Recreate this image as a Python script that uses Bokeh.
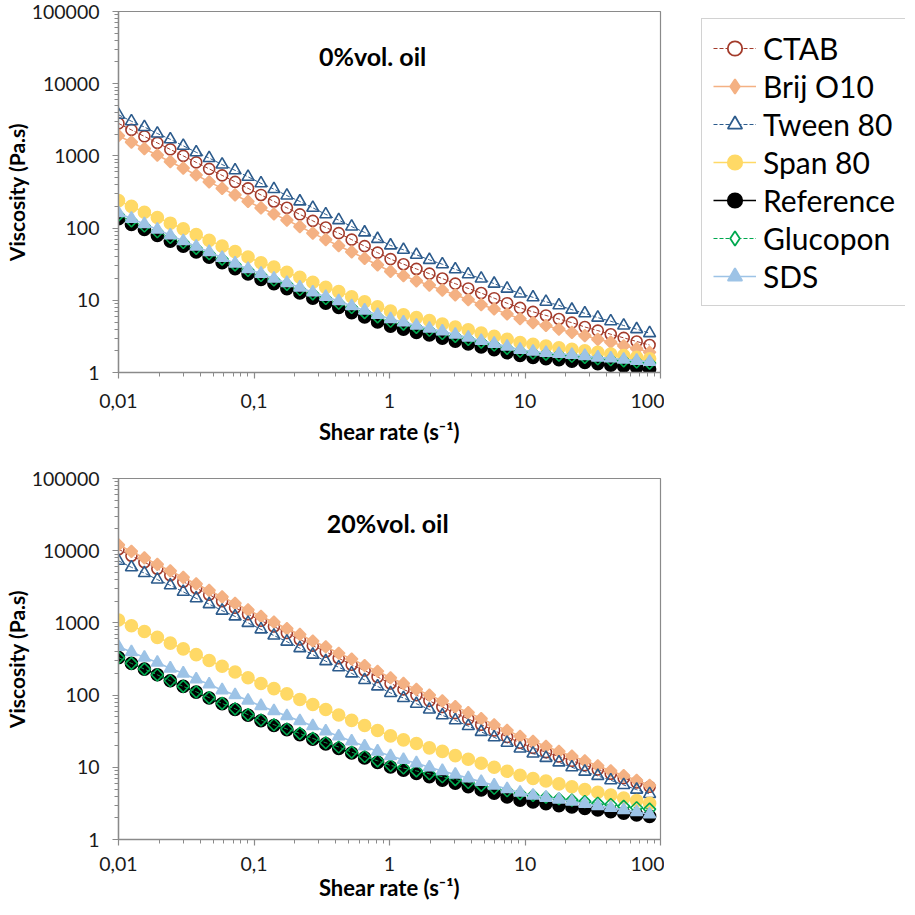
import math
from bokeh.plotting import figure
from bokeh.models import Range1d, FixedTicker, Label, Legend, LegendItem
from bokeh.layouts import column, row
from bokeh.embed import file_html
from bokeh.resources import INLINE

# ---------------- data ----------------
shear_rate = [0.01, 0.01246, 0.01553, 0.01935, 0.02412, 0.03006, 0.03746, 0.04668, 0.05818, 0.0725,
              0.09036, 0.1126, 0.1403, 0.1749, 0.218, 0.2716, 0.3385, 0.4219, 0.5257, 0.6552,
              0.8166, 1.018, 1.268, 1.58, 1.97, 2.455, 3.059, 3.813, 4.751, 5.922,
              7.379, 9.196, 11.46, 14.28, 17.8, 22.18, 27.64, 34.45, 42.94, 53.51,
              66.68, 83.1]

series_names = ["CTAB", "Brij O10", "Tween 80", "Span 80", "Reference", "Glucopon", "SDS"]
panel_titles = ["0%vol. oil", "20%vol. oil"]

# 0 %vol. oil
ctab_0 = [2818, 2291, 1862, 1514, 1230, 1000, 813, 661, 537, 437, 355, 288, 234, 191, 155, 126, 102, 85.1, 69.2, 56.2, 45.7,
          37.2, 31.6, 27.2, 23.4, 20.0, 17.0, 14.6, 12.6, 10.7, 9.12, 7.85, 6.92, 6.17, 5.50, 4.90, 4.27, 3.80, 3.39, 3.02, 2.69, 2.40]
brij_0 = [1905, 1549, 1259, 1023, 832, 676, 543, 437, 355, 288, 234, 191, 157, 129, 105, 85.1, 69.2, 56.9, 46.8, 38.0, 30.9,
          25.1, 21.9, 18.6, 16.2, 13.8, 11.9, 10.2, 8.71, 7.59, 6.46, 5.56, 4.90, 4.47, 3.98, 3.59, 3.24, 2.88, 2.63, 2.34, 2.14, 1.91]
tween_0 = [3715, 3020, 2512, 2042, 1698, 1380, 1122, 933, 759, 631, 513, 417, 347, 282, 234, 191, 155, 129, 105, 87.1, 70.8,
           57.5, 50.1, 42.7, 36.3, 31.6, 26.9, 22.9, 20.0, 17.0, 14.5, 12.4, 11.0, 9.55, 8.51, 7.41, 6.61, 5.75, 5.13, 4.47, 3.98, 3.51]
span_0 = [240, 200, 166, 140, 117, 97.7, 81.3, 67.6, 56.2, 47.3, 39.8, 33.1, 28.8, 24.5, 20.9, 17.8, 15.1, 13.2, 11.2, 9.55, 8.13,
          7.08, 6.31, 5.75, 5.25, 4.68, 4.27, 3.89, 3.51, 3.16, 2.88, 2.60, 2.45, 2.32, 2.19, 2.09, 2.00, 1.91, 1.80, 1.72, 1.62, 1.55]
ref_0 = [135, 112, 95.5, 79.4, 66.1, 56.2, 46.8, 39.4, 33.1, 27.5, 23.2, 19.5, 17.0, 14.5, 12.6, 10.7, 9.12, 7.94, 6.76, 5.89, 5.01,
         4.37, 3.98, 3.59, 3.31, 2.99, 2.72, 2.48, 2.26, 2.07, 1.88, 1.72, 1.62, 1.55, 1.50, 1.43, 1.38, 1.32, 1.26, 1.22, 1.175, 1.12]
glucopon_0 = [151, 126, 107, 89.1, 74.1, 63.1, 52.5, 44.2, 37.2, 30.9, 26.0, 22.1, 19.1, 16.6, 14.1, 12.3, 10.6, 9.12, 7.94, 6.76, 5.89,
              5.13, 4.68, 4.22, 3.85, 3.47, 3.16, 2.88, 2.63, 2.40, 2.16, 1.97, 1.86, 1.80, 1.74, 1.68, 1.62, 1.55, 1.50, 1.45, 1.40, 1.35]
sds_0 = [162, 135, 114, 95.5, 79.4, 66.1, 55.6, 46.8, 38.9, 32.4, 27.2, 23.4, 20.0, 17.4, 15.1, 12.9, 11.2, 9.77, 8.32, 7.24, 6.31,
         5.50, 4.95, 4.47, 4.07, 3.72, 3.35, 3.05, 2.75, 2.51, 2.29, 2.07, 1.95, 1.88, 1.82, 1.76, 1.70, 1.62, 1.57, 1.51, 1.46, 1.41]

# 20 %vol. oil
ctab_20 = [10470, 8511, 6918, 5623, 4571, 3715, 3020, 2455, 1995, 1622, 1318, 1072, 891, 724, 589, 484, 398, 324, 263, 219, 178,
           145, 120, 100, 83.2, 68.4, 56.2, 46.8, 38.9, 32.4, 26.3, 21.9, 18.6, 16.2, 14.1, 12.3, 10.7, 9.33, 8.13, 7.08, 6.17, 5.37]
brij_20 = [12020, 9772, 7943, 6457, 5248, 4266, 3467, 2818, 2291, 1862, 1514, 1230, 1023, 832, 692, 562, 468, 380, 316, 257, 214,
           174, 145, 120, 100, 83.2, 69.2, 57.5, 47.3, 38.9, 32.4, 26.9, 22.9, 19.5, 16.6, 14.3, 12.3, 10.5, 8.91, 7.67, 6.61, 5.62]
tween_20 = [7244, 5888, 4898, 3981, 3311, 2692, 2188, 1820, 1479, 1230, 1000, 813, 668, 550, 447, 363, 295, 243, 200, 162, 132,
            107, 91.2, 75.9, 63.1, 52.5, 44.7, 37.2, 30.9, 26.0, 21.9, 18.2, 15.5, 13.5, 11.7, 10.0, 8.71, 7.59, 6.61, 5.69, 4.90, 4.27]
span_20 = [1096, 912, 759, 631, 525, 437, 363, 302, 251, 209, 174, 145, 123, 104, 87.1, 74.1, 63.1, 53.1, 44.7, 38.0, 32.4,
           27.2, 24.0, 21.4, 18.6, 16.6, 14.5, 12.9, 11.4, 10.0, 8.81, 7.76, 7.01, 6.46, 5.89, 5.37, 4.90, 4.52, 4.12, 3.76, 3.47, 3.16]
ref_20 = [331, 275, 229, 191, 158, 132, 110, 91.2, 75.9, 63.1, 52.5, 44.2, 38.0, 33.1, 28.2, 24.5, 21.1, 18.2, 15.8, 13.5, 11.7,
          10.1, 9.12, 8.22, 7.41, 6.61, 6.03, 5.37, 4.84, 4.37, 3.89, 3.51, 3.31, 3.13, 2.95, 2.82, 2.69, 2.57, 2.43, 2.32, 2.19, 2.09]
glucopon_20 = [331, 275, 229, 191, 158, 132, 111, 92.3, 76.7, 64.6, 53.7, 45.2, 38.9, 33.9, 29.5, 25.1, 21.9, 19.1, 16.2, 14.1, 12.3,
               10.6, 9.77, 8.91, 8.13, 7.41, 6.76, 6.17, 5.62, 5.13, 4.73, 4.32, 4.07, 3.85, 3.67, 3.51, 3.35, 3.16, 3.05, 2.88, 2.75, 2.63]
sds_20 = [468, 394, 331, 282, 234, 200, 166, 141, 117, 100, 84.1, 70.8, 60.3, 51.3, 43.7, 37.2, 31.6, 26.9, 22.9, 19.5, 16.6,
          14.3, 12.7, 11.4, 10.0, 8.91, 7.94, 7.08, 6.31, 5.62, 5.01, 4.47, 4.07, 3.80, 3.59, 3.35, 3.13, 2.92, 2.75, 2.57, 2.40, 2.24]

x_tick_values = [0.01, 0.1, 1, 10, 100]
x_tick_labels = ["0,01", "0,1", "1", "10", "100"]
y_tick_values = [1, 10, 100, 1000, 10000, 100000]
y_tick_labels = ["1", "10", "100", "1000", "10000", "100000"]

# ---------------- styles ----------------
FONT = "Lato"
AXIS_GREY = "#8a8a8a"
styles = {
    "CTAB":      dict(color="#a33b2b", marker="circle",   size=11,  angle=0.0,       filled=False, dash="4 2", lw=1.0,
                      key_marker="circle", key_size=15),
    "Brij O10":  dict(color="#f4b183", marker="square",   size=8.5, angle=math.pi/4, filled=True,  dash="solid", lw=1.6,
                      key_marker="diamond", key_size=21),
    "Tween 80":  dict(color="#2c5b8c", marker="triangle", size=12,  angle=0.0,       filled=False, dash="4 2", lw=1.0,
                      key_marker="triangle", key_size=16),
    "Span 80":   dict(color="#ffd966", marker="circle",   size=12,  angle=0.0,       filled=True,  dash="solid", lw=1.6,
                      key_marker="circle", key_size=16),
    "Reference": dict(color="#000000", marker="circle",   size=12,  angle=0.0,       filled=True,  dash="solid", lw=1.6,
                      key_marker="circle", key_size=15),
    "Glucopon":  dict(color="#00a84f", marker="square",   size=8.5, angle=math.pi/4, filled=False, dash="4 2", lw=1.0,
                      key_marker="diamond", key_size=19),
    "SDS":       dict(color="#9dc3e6", marker="triangle", size=12,  angle=0.0,       filled=True,  dash="solid", lw=1.6,
                      key_marker="triangle", key_size=16),
}


def draw_series(p, xs, ys, name, key=False):
    s = styles[name]
    r_line = p.line(xs, ys, line_color=s["color"], line_width=s["lw"], line_dash=s["dash"])
    if key:
        r_pts = p.scatter(xs, ys, marker=s["key_marker"], size=s["key_size"],
                          line_color=s["color"], line_width=1.8,
                          fill_color=s["color"] if s["filled"] else "white")
    else:
        r_pts = p.scatter(xs, ys, marker=s["marker"], size=s["size"], angle=s["angle"],
                          line_color=s["color"], line_width=1.6,
                          fill_color=s["color"] if s["filled"] else None)
    return r_line, r_pts


def make_panel(series_values, title, title_x, min_left, min_right, min_top, min_bottom,
               label_standoff, title_standoff):
    p = figure(frame_width=542, frame_height=361,
               x_axis_type="log", y_axis_type="log",
               x_range=Range1d(0.01, 100), y_range=Range1d(1, 100000),
               toolbar_location=None, output_backend="svg",
               min_border_left=min_left, min_border_right=min_right,
               min_border_top=min_top, min_border_bottom=min_bottom)
    p.grid.visible = False
    p.outline_line_color = AXIS_GREY
    p.outline_line_width = 1.2
    p.background_fill_color = "white"

    x_minor = [k * 10.0 ** e for e in range(-2, 2) for k in range(2, 10)]
    y_minor = [k * 10.0 ** e for e in range(0, 5) for k in range(2, 10)]
    p.xaxis.ticker = FixedTicker(ticks=x_tick_values, minor_ticks=x_minor)
    p.yaxis.ticker = FixedTicker(ticks=y_tick_values, minor_ticks=y_minor)
    p.xaxis.major_label_overrides = dict(zip(x_tick_values, x_tick_labels))
    p.yaxis.major_label_overrides = dict(zip(y_tick_values, y_tick_labels))

    for ax in (p.xaxis[0], p.yaxis[0]):
        ax.axis_line_color = AXIS_GREY
        ax.axis_line_width = 1.4
        ax.major_tick_line_color = AXIS_GREY
        ax.minor_tick_line_color = AXIS_GREY
        ax.major_tick_line_width = 1.2
        ax.minor_tick_line_width = 1.0
        ax.major_tick_out = 6
        ax.major_tick_in = 0
        ax.minor_tick_out = 4
        ax.minor_tick_in = 0
        ax.major_label_text_font = FONT
        ax.major_label_text_font_size = "19.5px"
        ax.major_label_text_color = "#1a1a1a"
        ax.axis_label_text_font = FONT
        ax.axis_label_text_font_style = "bold"
        ax.axis_label_text_color = "#000000"

    p.xaxis.axis_label = "Shear rate (s\u207b\u00b9)"
    p.yaxis.axis_label = "Viscosity (Pa.s)"
    p.xaxis.axis_label_text_font_size = "22px"
    p.yaxis.axis_label_text_font_size = "21px"
    p.xaxis.major_label_standoff = label_standoff
    p.xaxis.axis_label_standoff = title_standoff
    p.yaxis.major_label_standoff = 13
    p.yaxis.axis_label_standoff = 0

    for name, ys in zip(series_names, series_values):
        draw_series(p, shear_rate, ys, name)

    p.add_layout(Label(x=title_x, y=24500, text=title, text_font=FONT, text_font_style="bold",
                       text_font_size="25px", text_align="center", text_baseline="alphabetic",
                       text_color="#000000"))
    return p


top_series = [ctab_0, brij_0, tween_0, span_0, ref_0, glucopon_0, sds_0]
top = make_panel(top_series, panel_titles[0], 0.75,
                 min_left=112, min_right=4, min_top=11, min_bottom=92,
                 label_standoff=15, title_standoff=7)
bottom = make_panel([ctab_20, brij_20, tween_20, span_20, ref_20, glucopon_20, sds_20], panel_titles[1], 0.97,
                    min_left=109, min_right=4, min_top=14, min_bottom=60,
                    label_standoff=11, title_standoff=0)

# ---------------- legend panel (to the right of the top chart) ----------------
TOP_HEIGHT = 11 + 361 + 92
leg = figure(width=241, height=TOP_HEIGHT, x_range=Range1d(1000, 2000), y_range=Range1d(1000, 2000),
             x_axis_location=None, y_axis_location=None, toolbar_location=None,
             output_backend="svg", min_border_left=30, min_border_right=0,
             min_border_top=0, min_border_bottom=0)
leg.grid.visible = False
leg.outline_line_color = None
leg.background_fill_color = "white"

items = []
for name, ys in zip(series_names, top_series):
    # one real point per series (outside this panel's ranges) so that the key glyphs draw
    rl, rp = draw_series(leg, shear_rate[:1], ys[:1], name, key=True)
    items.append(LegendItem(label=name, renderers=[rl, rp]))

legend = Legend(items=items, location="top_left", margin=7, padding=11,
                glyph_width=43, glyph_height=36, label_height=36, label_standoff=7, spacing=2,
                label_text_font=FONT, label_text_font_size="30px", label_text_color="#000000",
                border_line_color="#a6a6a6", border_line_width=1.5,
                background_fill_color="white", background_fill_alpha=1.0)
leg.add_layout(legend)

layout = column(row(top, leg), bottom)
open("out.html", "w").write(file_html(layout, INLINE))
